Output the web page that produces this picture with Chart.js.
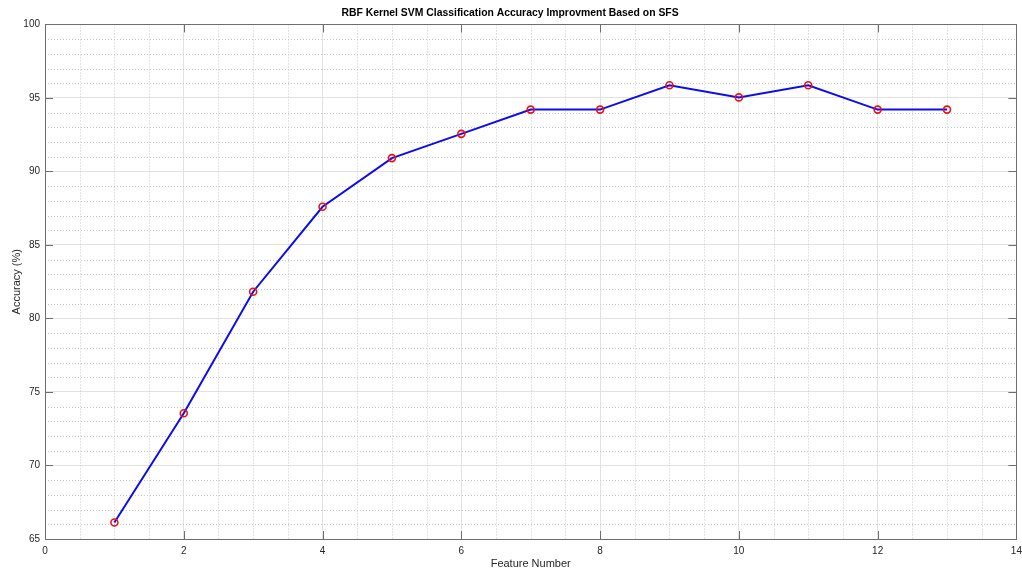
<!DOCTYPE html>
<html>
<head>
<meta charset="utf-8">
<script src="https://cdn.jsdelivr.net/npm/chart.js@4"></script>
<style>
  html, body { margin: 0; padding: 0; background: #fff; }
</style>
</head>
<body>
<canvas id="chart" width="1022" height="569"></canvas>
<script>
const featureNumbers = [1, 2, 3, 4, 5, 6, 7, 8, 9, 10, 11, 12, 13];
const accuracy = [66.12, 73.55, 81.82, 87.60, 90.91, 92.56, 94.21, 94.21, 95.87, 95.04, 95.87, 94.21, 94.21];
const xTicks = [0, 2, 4, 6, 8, 10, 12, 14];
const yTicks = [65, 70, 75, 80, 85, 90, 95, 100];
const xMinorStep = 0.5;
const yMinorStep = 1;

const textColor = '#262626';
const fontFamily = '"Liberation Sans", Arial, Helvetica, sans-serif';

// MATLAB-like axes: dotted minor grid, box, inward tick marks
const matlabAxes = {
    id: 'matlabAxes',
    beforeDatasetsDraw(chart) {
        const { ctx, chartArea: a, scales: { x, y } } = chart;
        ctx.save();
        ctx.strokeStyle = '#c8c8c8';
        ctx.lineWidth = 1;
        ctx.setLineDash([1, 2]);
        for (let v = xTicks[0]; v <= xTicks[xTicks.length - 1]; v += xMinorStep) {
            if (xTicks.includes(v)) continue;
            const px = Math.round(x.getPixelForValue(v)) + 0.5;
            ctx.beginPath(); ctx.moveTo(px, a.top); ctx.lineTo(px, a.bottom); ctx.stroke();
        }
        for (let v = yTicks[0]; v <= yTicks[yTicks.length - 1]; v += yMinorStep) {
            if (yTicks.includes(v)) continue;
            const py = Math.round(y.getPixelForValue(v)) + 0.5;
            ctx.beginPath(); ctx.moveTo(a.left, py); ctx.lineTo(a.right, py); ctx.stroke();
        }
        ctx.restore();
    },
    afterDatasetsDraw(chart) {
        const { ctx, chartArea: a, scales: { x, y } } = chart;
        const len = 8;
        ctx.save();
        ctx.strokeStyle = '#6e6e6e';
        ctx.lineWidth = 1;
        ctx.setLineDash([]);
        ctx.strokeRect(Math.round(a.left) + 0.5, Math.round(a.top) + 0.5,
            Math.round(a.right - a.left), Math.round(a.bottom - a.top));
        ctx.beginPath();
        xTicks.forEach(v => {
            const px = Math.round(x.getPixelForValue(v)) + 0.5;
            ctx.moveTo(px, a.bottom); ctx.lineTo(px, a.bottom - len);
            ctx.moveTo(px, a.top); ctx.lineTo(px, a.top + len);
        });
        yTicks.forEach(v => {
            const py = Math.round(y.getPixelForValue(v)) + 0.5;
            ctx.moveTo(a.left, py); ctx.lineTo(a.left + len, py);
            ctx.moveTo(a.right, py); ctx.lineTo(a.right - len, py);
        });
        ctx.stroke();
        ctx.restore();
    }
};

new Chart(document.getElementById('chart'), {
    type: 'line',
    data: {
        datasets: [{
            data: featureNumbers.map((f, i) => ({ x: f, y: accuracy[i] })),
            borderColor: '#0c0cee',
            borderWidth: 2,
            tension: 0,
            pointRadius: 3.5,
            pointStyle: 'circle',
            pointBorderColor: '#ee1111',
            pointBackgroundColor: 'rgba(0,0,0,0)',
            pointBorderWidth: 1.6
        }]
    },
    options: {
        responsive: false,
        animation: false,
        layout: { padding: { left: 0, right: 2, top: 0, bottom: 0 } },
        plugins: {
            legend: { display: false },
            tooltip: { enabled: false },
            title: {
                display: true,
                text: 'RBF Kernel SVM Classification Accuracy Improvment Based on SFS',
                color: '#000',
                font: { family: fontFamily, size: 10.4, weight: 'bold' },
                padding: { top: 7, bottom: 5 }
            }
        },
        scales: {
            x: {
                type: 'linear',
                min: 0,
                max: 14,
                afterBuildTicks: scale => { scale.ticks = xTicks.map(v => ({ value: v })); },
                afterFit: scale => { scale.height = 30; scale.paddingRight = 0; },
                ticks: { color: textColor, font: { family: fontFamily, size: 10 }, padding: 6, maxRotation: 0 },
                grid: { color: '#e2e2e2', drawTicks: false },
                border: { display: false },
                title: {
                    display: true,
                    text: 'Feature Number',
                    color: textColor,
                    font: { family: fontFamily, size: 11 },
                    padding: { top: -2, bottom: -2 }
                }
            },
            y: {
                min: 65,
                max: 100,
                afterBuildTicks: scale => { scale.ticks = yTicks.map(v => ({ value: v })); },
                afterFit: scale => { scale.width = 45; },
                ticks: { color: textColor, font: { family: fontFamily, size: 10 }, padding: 5 },
                grid: { color: '#e2e2e2', drawTicks: false },
                border: { display: false },
                title: {
                    display: true,
                    text: 'Accuracy (%)',
                    color: textColor,
                    font: { family: fontFamily, size: 11 },
                    padding: { top: 10, bottom: 0 }
                }
            }
        }
    },
    plugins: [matlabAxes]
});
</script>
</body>
</html>
